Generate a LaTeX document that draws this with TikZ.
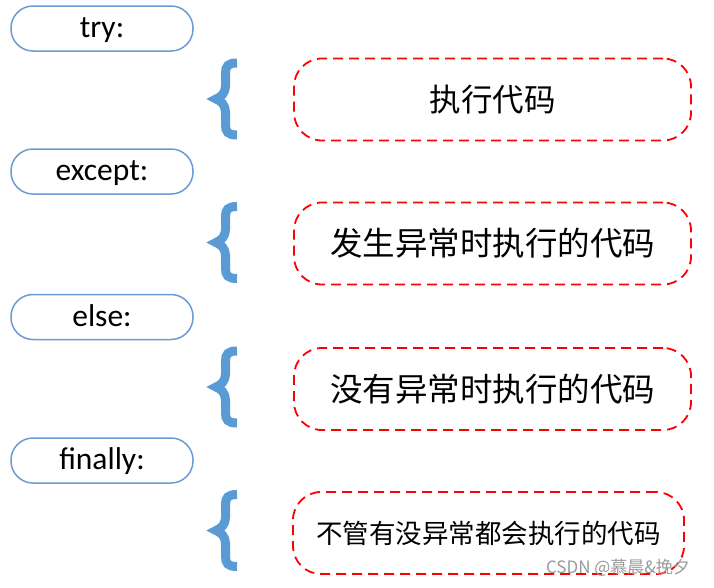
\documentclass[tikz,border=0pt]{standalone}
\usepackage{fontspec}
\setmainfont{Carlito}
\newfontfamily\cjk{Noto Sans CJK SC}
\definecolor{kwblue}{HTML}{6C9BD2}
\definecolor{brblue}{HTML}{5B9BD5}
\definecolor{dashred}{HTML}{FF0000}
\definecolor{wmgray}{HTML}{9A9A9A}
\tikzset{
  kwbox/.style={draw=kwblue, line width=1.5pt, rounded corners=22pt,
    minimum width=182pt, minimum height=45pt, inner sep=0pt,
    text height=21pt, text depth=3pt,
    font=\fontsize{31.5}{31.5}\selectfont},
  codebox/.style={draw=dashred, line width=1.8pt, dash pattern=on 10pt off 6pt,
    rounded corners=28pt, minimum width=397pt, minimum height=82pt, inner sep=0pt,
    font=\cjk\fontsize{31.5}{31.5}\selectfont},
  cbrace/.pic={
    \draw[brblue, line width=9pt, line cap=butt]
      (12,-36) .. controls (3,-36) and (0.5,-33) .. (0.5,-26) -- (0.5,-13)
      .. controls (0.5,-6) and (-4,-2) .. (-9,0)
      .. controls (-4,2) and (0.5,6) .. (0.5,13) -- (0.5,26)
      .. controls (0.5,33) and (3,36) .. (12,36);
  }
}
\begin{document}
\begin{tikzpicture}[x=1pt,y=-1pt]
\useasboundingbox (0,0) rectangle (714,587);
\fill[white] (0,0) rectangle (714,587);
% keyword boxes
\node[kwbox] (k1) at (102,28.5) {try:};
\node[kwbox] (k2) at (102,171.5) {except:};
\node[kwbox] (k3) at (102,317) {else:};
\node[kwbox] (k4) at (102,460.5) {finally:};
% braces
\pic at (225,99) {cbrace};
\pic at (225,242.5) {cbrace};
\pic at (225,387) {cbrace};
\pic at (225,530.5) {cbrace};
% code boxes
\node[codebox] (c1) at (492.5,99.5) {执行代码};
\node[codebox, font=\cjk\fontsize{32.5}{32.5}\selectfont] (c2) at (492.5,243.5) {发生异常时执行的代码};
\node[codebox, font=\cjk\fontsize{32.5}{32.5}\selectfont] (c3) at (492.5,389) {没有异常时执行的代码};
\node[codebox, minimum width=391pt, font=\cjk\fontsize{26.5}{26.5}\selectfont] (c4) at (488.5,533) {不管有没异常都会执行的代码};
% watermark
\node[text=wmgray, font=\cjk\fontsize{17}{17}\selectfont, inner sep=0pt] (wm) at (618,568) {CSDN @慕晨\&挽夕};
\end{tikzpicture}
\end{document}
